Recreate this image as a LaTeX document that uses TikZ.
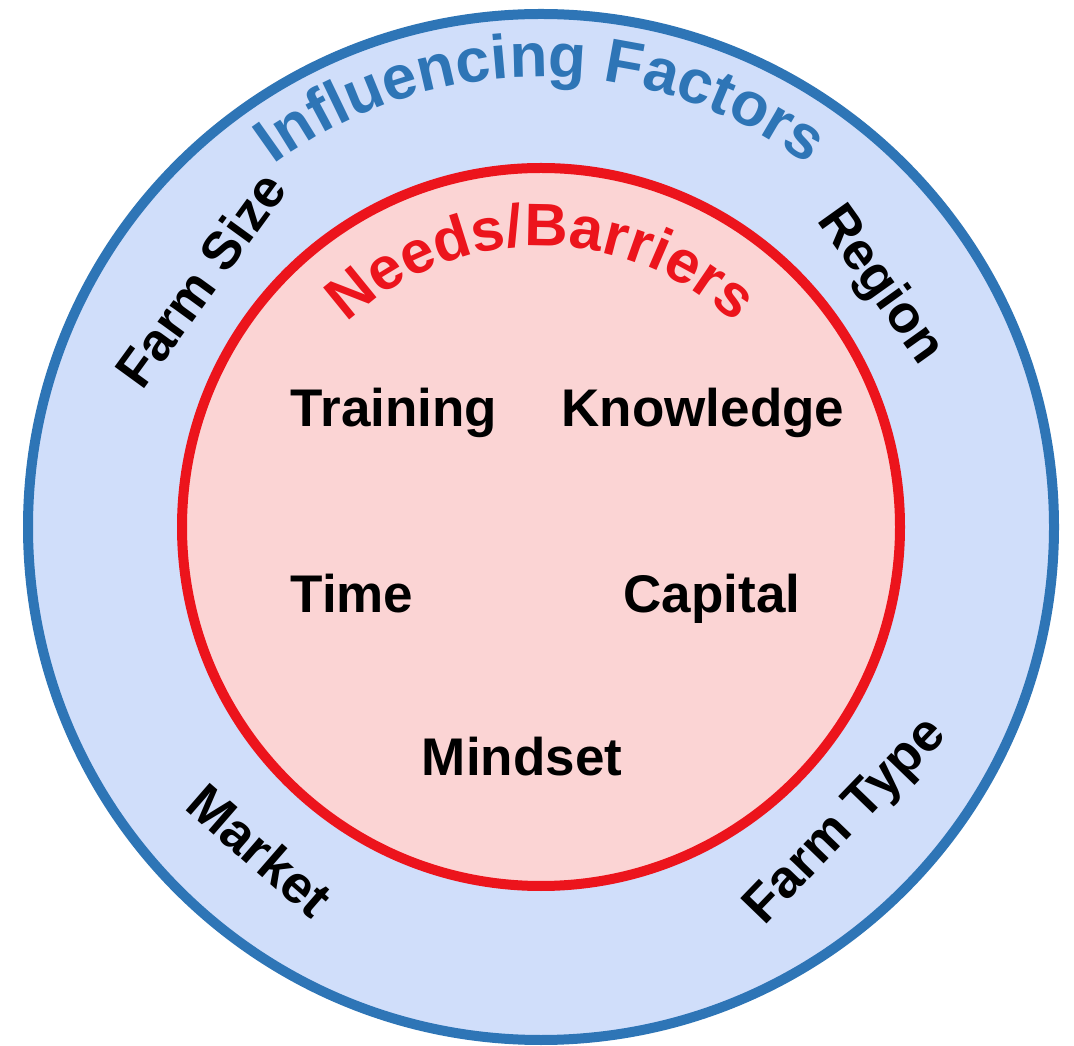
\documentclass[tikz,border=0pt]{standalone}
\usepackage{fontspec}
\setmainfont{Liberation Sans}
\usetikzlibrary{calc,decorations.text}
\definecolor{ringblue}{RGB}{46,117,182}
\definecolor{fillblue}{RGB}{208,222,250}
\definecolor{ringred}{RGB}{236,20,28}
\definecolor{fillred}{RGB}{251,212,212}
\newcommand{\bigbold}[1]{\fontsize{#1}{#1}\selectfont\bfseries}

\begin{document}
\begin{tikzpicture}[x=1pt, y=1pt,
		word/.style={font=\bigbold{53}, anchor=base},
		side/.style={font=\bigbold{53}}]
	\useasboundingbox (0,0) rectangle (1074,1045);
	\fill[white] (0,0) rectangle (1074,1045);
	\coordinate (c) at (541,518);
	%%% Cerchi
	\draw[ringblue, line width=10pt, fill=fillblue] (c) circle[radius=513];
	\draw[ringred, line width=10pt, fill=fillred] (c) circle[radius=359];
	%%% Titoli curvi
	\path[decorate, decoration={text along path, text align=center,
		text={|\bigbold{62}\color{ringblue}|Influencing Factors}}]
		($(c)+(170:450)$) arc[start angle=170, end angle=10, radius=450];
	\path[decorate, decoration={text along path, text align=center,
		text={|\bigbold{60}\color{ringred}|Needs/Barriers}}]
		($(c)+(170:281)$) arc[start angle=170, end angle=10, radius=281];
	%%% Fattori esterni
	\node[side, rotate=54] (farmsize) at ($(c)+(144:421)$) {Farm Size};
	\node[side, rotate=-54.5] (region) at ($(c)+(35.5:416)$) {Region};
	\node[side, rotate=-41] (market) at ($(c)+(229:428)$) {Market};
	\node[side, rotate=46] (farmtype) at ($(c)+(-44:425)$) {Farm Type};
	%%% Bisogni interni
	\node[word] (training) at (394,618) {Training};
	\node[word] (knowledge) at (703,618) {Knowledge};
	\node[word] (time) at (352,432) {Time};
	\node[word] (capital) at (712,432) {Capital};
	\node[word] (mindset) at (522,269) {Mindset};
\end{tikzpicture}
\end{document}
